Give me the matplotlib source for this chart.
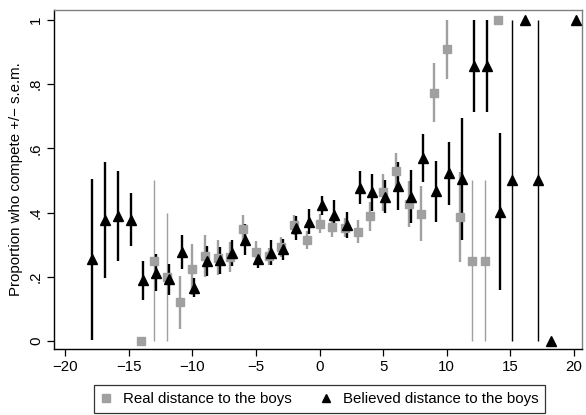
import matplotlib
matplotlib.use("Agg")
import matplotlib.pyplot as plt
from matplotlib.lines import Line2D
import numpy as np

plt.rcParams['font.family'] = ['Liberation Sans', 'DejaVu Sans']

# Real distance to the boys (grey squares)
real_x = list(range(-14, 15))
real_mean = [0.0, 0.25, 0.20, 0.12, 0.223, 0.264, 0.259, 0.262, 0.349, 0.278,
             0.264, 0.293, 0.362, 0.314, 0.365, 0.355, 0.353, 0.341, 0.388, 0.463,
             0.528, 0.426, 0.396, 0.773, 0.909, 0.386, 0.25, 0.25, 1.0]
real_sem = [0.0, 0.25, 0.20, 0.082, 0.08, 0.065, 0.055, 0.047, 0.042, 0.033,
            0.026, 0.03, 0.031, 0.029, 0.03, 0.031, 0.03, 0.037, 0.045, 0.057,
            0.058, 0.072, 0.086, 0.092, 0.092, 0.14, 0.25, 0.25, 0.0]

# Believed distance to the boys (black triangles)
bel_x = list(range(-18, 19)) + [20]
bel_mean = [0.254, 0.378, 0.388, 0.378, 0.189, 0.213, 0.192, 0.278, 0.166, 0.249,
            0.251, 0.275, 0.316, 0.256, 0.275, 0.285, 0.352, 0.372, 0.422, 0.393,
            0.362, 0.478, 0.463, 0.45, 0.484, 0.45, 0.571, 0.467, 0.522, 0.504,
            0.858, 0.858, 0.403, 0.5, 1.0, 0.5, 0.0, 1.0]
bel_sem = [0.25, 0.181, 0.14, 0.083, 0.06, 0.058, 0.048, 0.053, 0.03, 0.046,
           0.041, 0.041, 0.047, 0.028, 0.038, 0.034, 0.037, 0.04, 0.029, 0.045,
           0.041, 0.052, 0.058, 0.052, 0.075, 0.082, 0.075, 0.095, 0.099, 0.19,
           0.145, 0.145, 0.244, 0.5, 0.0, 0.5, 0.0, 0.0]

grey = '#a0a0a0'
fs = 10.8

fig = plt.figure(figsize=(5.86, 4.15), dpi=100)
ax = fig.add_axes([0.0922, 0.159, 0.9005, 0.817])


def draw(xs, means, sems, shift, color, marker, ms, lw):
    xs = np.array(xs) + shift
    m = np.array(means)
    s = np.array(sems)
    lo = np.clip(m - s, 0, 1)
    hi = np.clip(m + s, 0, 1)
    has = s > 0
    # bars that run down to zero are drawn thinner in the original
    widths = [lw * 0.6 if l <= 0 else lw for l in lo[has]]
    ax.vlines(xs[has], lo[has], hi[has], colors=color, linewidths=widths, zorder=2)
    ax.plot(xs, m, linestyle='none', marker=marker, color=color, ms=ms, mec=color,
            zorder=3, clip_on=False)


draw(real_x, real_mean, real_sem, 0.0, grey, 's', 5.5, 1.7)
draw(bel_x, bel_mean, bel_sem, 0.16, 'black', '^', 7, 1.7)

ax.set_xlim(-20.86, 20.6)
ax.set_ylim(-0.025, 1.031)
ax.set_xticks([-20, -15, -10, -5, 0, 5, 10, 15, 20])
ax.set_xticklabels(['\u221220', '\u221215', '\u221210', '\u22125', '0', '5', '10', '15', '20'])
ax.set_yticks([0, 0.2, 0.4, 0.6, 0.8, 1])
ax.set_yticklabels(['0', '.2', '.4', '.6', '.8', '1'], rotation=90, va='center')
ax.tick_params(labelsize=fs, length=5, width=0.9, direction='out', colors='black', pad=3)
ax.set_ylabel('Proportion who compete +/\u2212 s.e.m.', fontsize=fs, labelpad=4)

for side in ['top', 'right']:
    ax.spines[side].set_color('#808080')
    ax.spines[side].set_linewidth(1.0)
for side in ['left', 'bottom']:
    ax.spines[side].set_color('black')
    ax.spines[side].set_linewidth(1.0)

handles = [
    Line2D([], [], linestyle='none', marker='s', color=grey, ms=5.5),
    Line2D([], [], linestyle='none', marker='^', color='black', ms=6),
]
leg = fig.legend(handles, ['Real distance to the boys', 'Believed distance to the boys'],
                 loc='center', bbox_to_anchor=(0.545, 0.0386), ncol=2, fontsize=fs,
                 frameon=True, fancybox=False, handlelength=0.8, handletextpad=0.7,
                 columnspacing=1.9, borderpad=0.45)
leg.get_frame().set_edgecolor('black')
leg.get_frame().set_linewidth(0.9)

fig.savefig('out.png', dpi=100)
